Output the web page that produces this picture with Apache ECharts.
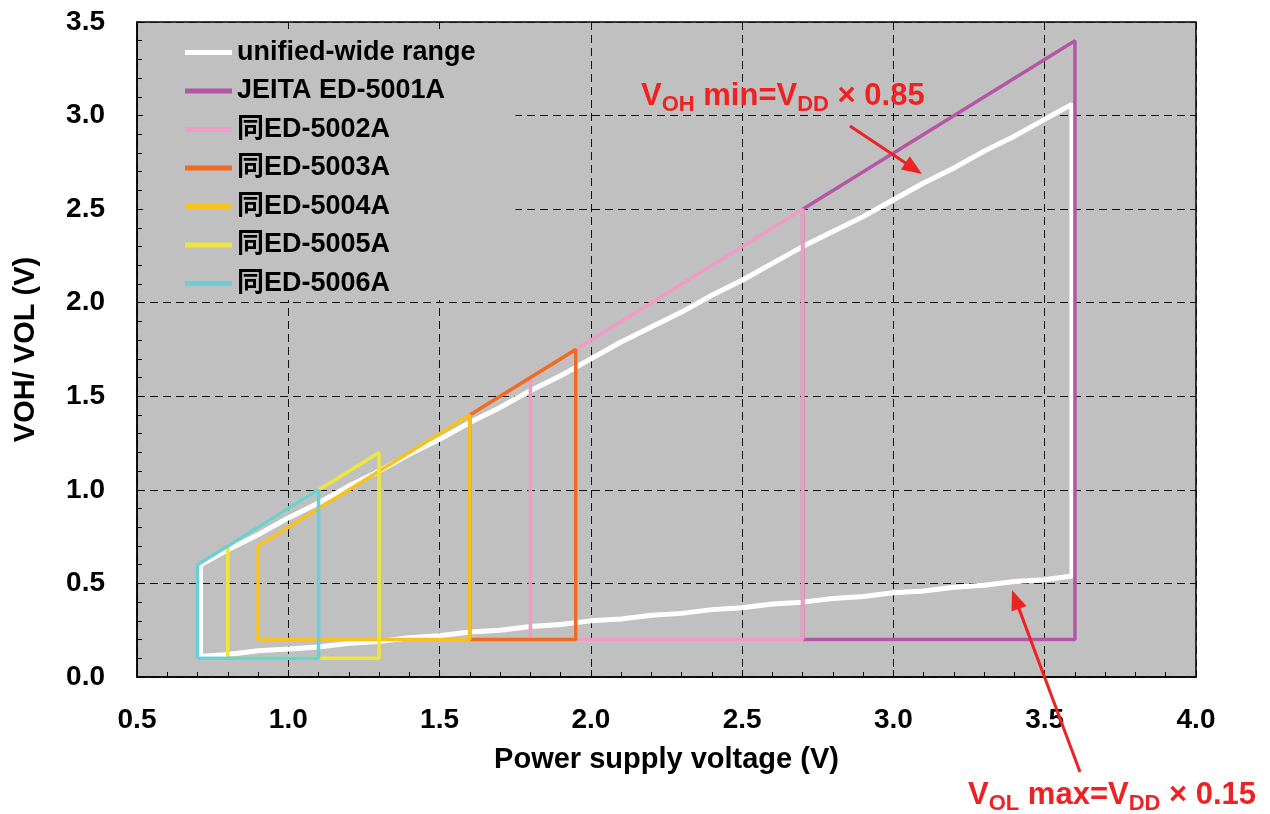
<!DOCTYPE html>
<html>
<head>
<meta charset="utf-8">
<title>VOH / VOL</title>
<script src="https://cdn.jsdelivr.net/npm/echarts@6/dist/echarts.min.js"></script>
</head>
<body style="margin:0;background:#fff;">
<div id="main" style="width:1270px;height:814px;"></div>
<script>
    // unified-wide range
    var vdd = [0.71, 0.8, 0.9, 1.0, 1.1, 1.2, 1.3, 1.4, 1.5, 1.6, 1.7, 1.8, 1.9, 2.0, 2.1, 2.2, 2.3, 2.4, 2.5, 2.6, 2.7, 2.8, 2.9, 3.0, 3.1, 3.2, 3.3, 3.4, 3.5, 3.59];
    var vohMin = [0.6, 0.68, 0.76, 0.85, 0.93, 1.02, 1.1, 1.19, 1.27, 1.36, 1.44, 1.53, 1.61, 1.7, 1.79, 1.87, 1.95, 2.04, 2.12, 2.21, 2.3, 2.38, 2.46, 2.55, 2.64, 2.72, 2.81, 2.89, 2.98, 3.06];
    var volMax = [0.11, 0.12, 0.14, 0.15, 0.16, 0.18, 0.19, 0.21, 0.22, 0.24, 0.25, 0.27, 0.28, 0.3, 0.31, 0.33, 0.34, 0.36, 0.37, 0.39, 0.4, 0.42, 0.43, 0.45, 0.46, 0.48, 0.49, 0.51, 0.52, 0.54];

    // JEITA standards, outline corners (VDD, V)
    var ed5001x = [2.7, 2.7, 3.6, 3.6, 2.7];
    var ed5001y = [0.2, 2.5, 3.4, 0.2, 0.2];
    var ed5002x = [1.8, 1.8, 2.7, 2.7, 1.8];
    var ed5002y = [0.2, 1.6, 2.5, 0.2, 0.2];
    var ed5003x = [1.6, 1.6, 1.95, 1.95, 1.6];
    var ed5003y = [0.2, 1.4, 1.75, 0.2, 0.2];
    var ed5004x = [0.9, 0.9, 1.6, 1.6, 0.9];
    var ed5004y = [0.2, 0.7, 1.4, 0.2, 0.2];
    var ed5005x = [0.8, 0.8, 1.3, 1.3, 0.8];
    var ed5005y = [0.1, 0.7, 1.2, 0.1, 0.1];
    var ed5006x = [0.7, 0.7, 1.1, 1.1, 0.7];
    var ed5006y = [0.1, 0.6, 1.0, 0.1, 0.1];

    var names = ['unified-wide range', 'JEITA ED-5001A', '同ED-5002A', '同ED-5003A', '同ED-5004A', '同ED-5005A', '同ED-5006A'];
    var colors = ['#ffffff', '#b455a8', '#f29bc2', '#f26a22', '#f7c21e', '#eee63c', '#6ccfd8'];

    function zip(xs, ys) {
        return xs.map(function (x, i) { return [x, ys[i]]; });
    }

    // closed outline of the white range: upper line, right edge, lower line back, left edge
    var whitePath = zip(vdd, vohMin).concat(zip(vdd, volMax).reverse());
    whitePath.push([vdd[0], vohMin[0]]);

    var shapes = [
        whitePath,
        zip(ed5001x, ed5001y),
        zip(ed5002x, ed5002y),
        zip(ed5003x, ed5003y),
        zip(ed5004x, ed5004y),
        zip(ed5005x, ed5005y),
        zip(ed5006x, ed5006y)
    ];

    var font = "'Liberation Sans', Arial, 'Noto Sans CJK JP', sans-serif";
    var red = '#ee2222';

    var myChart = echarts.init(document.getElementById('main'));
    myChart.setOption({
        animation: false,
        backgroundColor: '#fff',
        textStyle: { fontFamily: font },
        grid: {
            left: 137, right: 74, top: 22, bottom: 137,
            show: true, backgroundColor: '#c0c0c0', borderColor: '#000', borderWidth: 1.5
        },
        legend: {
            orient: 'vertical',
            left: 143, top: 29,
            padding: [10, 40, 3, 42],
            backgroundColor: '#c0c0c0',
            itemGap: 11.5,
            itemWidth: 47, itemHeight: 5,
            icon: 'rect',
            data: names,
            textStyle: { fontSize: 27, fontWeight: 'bold', color: '#000', lineHeight: 27, fontFamily: font }
        },
        xAxis: {
            type: 'value', min: 0.5, max: 4.0, interval: 0.5,
            name: 'Power supply voltage (V)', nameLocation: 'middle', nameGap: 68,
            nameTextStyle: { fontSize: 29, fontWeight: 'bold', color: '#000' },
            axisLine: { show: true, lineStyle: { color: '#000', width: 1.5 } },
            axisTick: { inside: true, length: 7, lineStyle: { color: '#000' } },
            minorTick: { show: true, splitNumber: 5, length: 5, lineStyle: { color: '#000' } },
            axisLabel: { fontSize: 28, fontWeight: 'bold', color: '#000', margin: 29,
                formatter: function (v) { return v.toFixed(1); } },
            splitLine: { show: true, lineStyle: { color: '#111', type: [8, 5], width: 1 } }
        },
        yAxis: {
            type: 'value', min: 0, max: 3.5, interval: 0.5,
            name: 'VOH/ VOL (V)', nameLocation: 'middle', nameGap: 96,
            nameTextStyle: { fontSize: 29, fontWeight: 'bold', color: '#000' },
            axisLine: { show: true, lineStyle: { color: '#000', width: 1.5 } },
            axisTick: { inside: true, length: 7, lineStyle: { color: '#000' } },
            minorTick: { show: true, splitNumber: 5, length: 5, lineStyle: { color: '#000' } },
            axisLabel: { fontSize: 28, fontWeight: 'bold', color: '#000', margin: 32,
                formatter: function (v) { return v.toFixed(1); } },
            splitLine: { show: true, lineStyle: { color: '#111', type: [8, 5], width: 1 } }
        },
        series: shapes.map(function (pts, i) {
            return {
                name: names[i],
                type: 'line',
                data: pts,
                color: colors[i],
                symbol: 'none',
                z: 2 + i,
                lineStyle: { width: i === 0 ? 5 : 3.5, color: colors[i] }
            };
        })
    });

    // annotations: red labels with arrows
    function arrow(x1, y1, x2, y2) {
        var dx = x2 - x1, dy = y2 - y1;
        var len = Math.sqrt(dx * dx + dy * dy);
        var ux = dx / len, uy = dy / len;
        var hl = 20, hw = 8;
        var bx = x2 - ux * hl, by = y2 - uy * hl;
        return [{
            type: 'line', z: 100,
            shape: { x1: x1, y1: y1, x2: bx + ux * 2, y2: by + uy * 2 },
            style: { stroke: red, lineWidth: 3 }
        }, {
            type: 'polygon', z: 100,
            shape: { points: [[x2, y2], [bx - uy * hw, by + ux * hw], [bx + uy * hw, by - ux * hw]] },
            style: { fill: red }
        }];
    }

    var rich = {
        a: { fontSize: 31, fontWeight: 'bold', fill: red, color: red, fontFamily: font, lineHeight: 38, verticalAlign: 'middle' },
        s: { fontSize: 22, fontWeight: 'bold', fill: red, color: red, fontFamily: font, lineHeight: 38, verticalAlign: 'bottom' }
    };

    myChart.setOption({
        graphic: [{
            type: 'text', left: 641, top: 81, z: 100,
            style: { text: '{a|V}{s|OH}{a| min=V}{s|DD}{a| × 0.85}', rich: rich, fill: red }
        }, {
            type: 'text', left: 968, top: 780, z: 100,
            style: { text: '{a|V}{s|OL}{a| max=V}{s|DD}{a| × 0.15}', rich: rich, fill: red }
        }].concat(arrow(850, 126, 922, 174)).concat(arrow(1080, 772, 1012, 590))
    });
</script>
</body>
</html>
